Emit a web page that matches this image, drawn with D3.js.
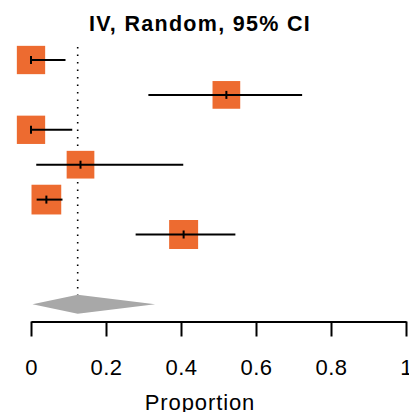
<!DOCTYPE html>
<html><head><meta charset="utf-8">
<script src="https://cdn.jsdelivr.net/npm/d3@7"></script>
<style>body{margin:0;background:#fff}svg{display:block}</style>
</head><body><svg id="c" width="409" height="412"></svg>
<script>
const studies = ["S1","S2","S3","S4","S5","S6"];
const estimates = [0.0, 0.521, 0.0, 0.132, 0.041, 0.407];
const lower = [0.0, 0.313, 0.0, 0.014, 0.015, 0.279];
const upper = [0.092, 0.723, 0.110, 0.406, 0.084, 0.545];
const weights = [16.5, 15.8, 16.5, 15.8, 18.2, 17.3];
const pooled = {est: 0.1245, lo: 0.004, hi: 0.331};
const ticks = [0, 0.2, 0.4, 0.6, 0.8, 1];
const tickLabels = ["0","0.2","0.4","0.6","0.8","1"];
const title = "IV, Random, 95% CI";
const xLabel = "Proportion";

const svg = d3.select("#c");
const x = d3.scaleLinear().domain([0,1]).range([31,406]);
const rows = studies.concat(["_gap","_pooled"]);
const y = d3.scalePoint().domain(rows).range([60,304.3]);
const s = d3.scaleSqrt().domain([0,100]).range([0,69.7]);
const orange = "#ED6B30";

// dotted reference line
svg.append("line").attr("x1",x(pooled.est)).attr("x2",x(pooled.est))
  .attr("y1",47).attr("y2",296)
  .attr("stroke","#000").attr("stroke-width",1.6).attr("stroke-dasharray","1.6,5.9");

// squares
const g = svg.append("g");
studies.forEach((d,i)=>{
  const sz = s(weights[i]);
  const cy = y(d);
  g.append("rect").attr("x",x(estimates[i])-sz/2).attr("y",cy-sz/2)
    .attr("width",sz).attr("height",sz).attr("fill",orange);
  g.append("line").attr("x1",x(lower[i])).attr("x2",x(upper[i]))
    .attr("y1",cy).attr("y2",cy).attr("stroke","#000").attr("stroke-width",2);
  g.append("line").attr("x1",x(estimates[i])).attr("x2",x(estimates[i]))
    .attr("y1",cy-4).attr("y2",cy+4).attr("stroke","#000").attr("stroke-width",2);
});

// diamond
const dy = y("_pooled");
svg.append("path")
  .attr("d",`M${x(pooled.lo)},${dy} L${x(pooled.est)},${dy-9.5} L${x(pooled.hi)},${dy} L${x(pooled.est)},${dy+9.5} Z`)
  .attr("fill","#A8A8A8");

// axis
const axis = d3.axisBottom(x).tickValues(ticks).tickSize(15).tickSizeOuter(0)
  .tickFormat((d,i)=>tickLabels[i]);
const ag = svg.append("g").attr("transform","translate(0,321.5)").call(axis);
ag.select(".domain").attr("stroke-width",2);
ag.selectAll(".tick line").attr("stroke-width",2);
ag.selectAll(".tick text").attr("font-family","Liberation Sans, Arial, sans-serif")
  .attr("font-size",22).attr("letter-spacing",0.4).attr("fill","#000").attr("dy",0).attr("y",53.5);

svg.append("text").attr("x",200).attr("y",410).attr("text-anchor","middle")
  .attr("font-family","Liberation Sans, Arial, sans-serif").attr("font-size",22)
  .attr("letter-spacing",0.9).text(xLabel);

svg.append("text").attr("x",200).attr("y",30.7).attr("text-anchor","middle")
  .attr("font-family","Liberation Sans, Arial, sans-serif").attr("font-size",21.5)
  .attr("font-weight","bold").attr("letter-spacing",1.3).text(title);
</script></body></html>
